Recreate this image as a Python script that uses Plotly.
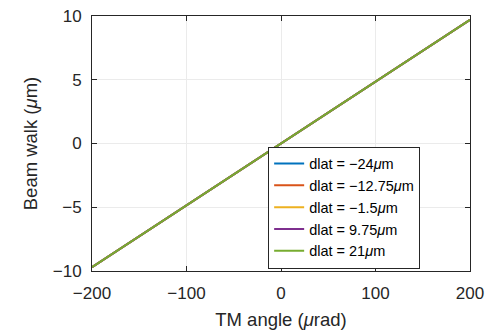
import plotly.graph_objects as go

tm_angle = [-200, -100, 0, 100, 200]
beam_walk = {
    "dlat = \u221224<i>\u03bc</i>m": [-9.7, -4.85, 0, 4.85, 9.7],
    "dlat = \u221212.75<i>\u03bc</i>m": [-9.7, -4.85, 0, 4.85, 9.7],
    "dlat = \u22121.5<i>\u03bc</i>m": [-9.7, -4.85, 0, 4.85, 9.7],
    "dlat = 9.75<i>\u03bc</i>m": [-9.7, -4.85, 0, 4.85, 9.7],
    "dlat = 21<i>\u03bc</i>m": [-9.7, -4.85, 0, 4.85, 9.7],
}
colors = ["#0072BD", "#D95319", "#EDB120", "#7E2F8E", "#77AC30"]

fig = go.Figure()
for (name, vals), c in zip(beam_walk.items(), colors):
    fig.add_trace(go.Scatter(x=tm_angle, y=vals, mode="lines", name=name,
                             line=dict(color=c, width=2)))

axis_common = dict(showline=True, linecolor="#262626", linewidth=1, mirror="ticks",
                   ticks="inside", ticklen=5, tickcolor="#262626",
                   showgrid=True, gridcolor="#ebebeb", gridwidth=1,
                   zeroline=False, automargin=False,
                   tickfont=dict(size=17, color="#262626"))

fig.update_layout(
    width=502, height=334,
    margin=dict(l=92, r=32, t=16, b=63),
    plot_bgcolor="white", paper_bgcolor="white",
    font=dict(family="Liberation Sans, Arial, sans-serif", color="#262626"),
    xaxis=dict(range=[-200, 200], tickvals=[-200, -100, 0, 100, 200],
               ticktext=["\u2212200", "\u2212100", "0", "100", "200"],
               ticklabelstandoff=7,
               title=dict(text="TM angle (<i>\u03bc</i>rad)", font=dict(size=18.5), standoff=10),
               **axis_common),
    yaxis=dict(range=[-10, 10], tickvals=[-10, -5, 0, 5, 10],
               ticktext=["\u221210", "\u22125", "0", "5", "10"],
               ticklabelstandoff=6,
               title=dict(text="Beam walk (<i>\u03bc</i>m)", font=dict(size=18.5), standoff=10),
               **axis_common),
    legend=dict(x=0.466, y=0.249, xanchor="left", yanchor="middle",
                bgcolor="white", bordercolor="#262626", borderwidth=1,
                font=dict(size=14.5, color="#000000"), tracegroupgap=0),
    showlegend=True,
)

fig.write_html("out.html")
